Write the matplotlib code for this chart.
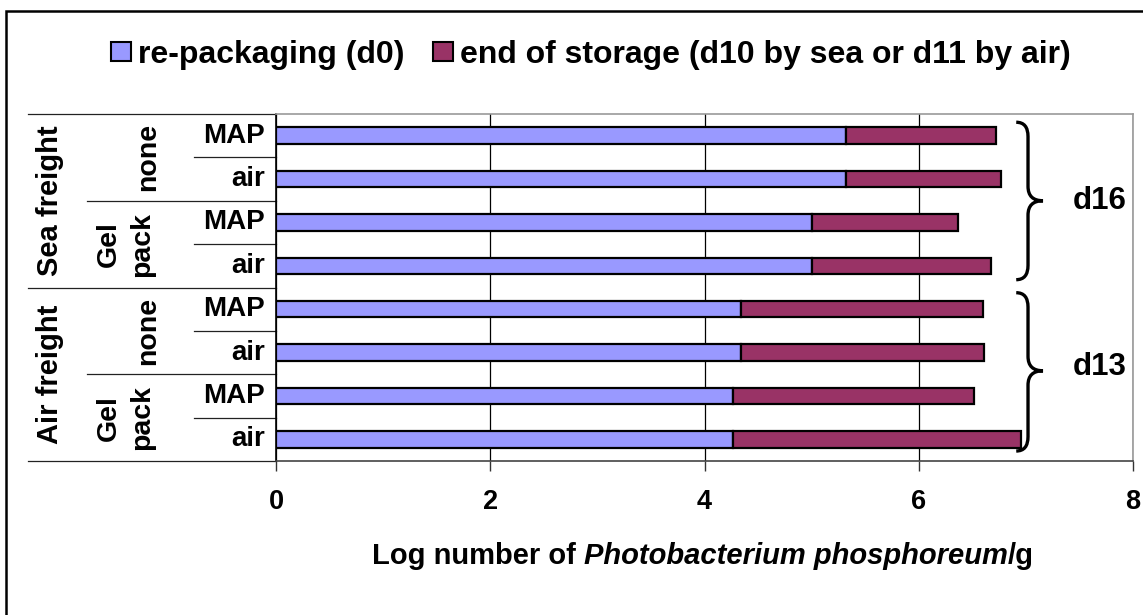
import matplotlib.pyplot as plt
import matplotlib.transforms as mtransforms
from matplotlib.patches import Patch, Rectangle
from matplotlib.path import Path
from matplotlib.patches import PathPatch

plt.rcParams['font.family'] = ['Liberation Sans', 'DejaVu Sans']
plt.rcParams['font.weight'] = 'bold'

# data (top to bottom)
transport = ['Sea freight', 'Air freight']
gel = ['none', 'Gel\npack']
atmosphere = ['MAP', 'air', 'MAP', 'air', 'MAP', 'air', 'MAP', 'air']
d0 = [5.32, 5.32, 5.00, 5.00, 4.34, 4.34, 4.27, 4.27]
end_storage = [6.72, 6.77, 6.37, 6.67, 6.60, 6.61, 6.52, 6.95]
increase = [e - s for e, s in zip(end_storage, d0)]
brace_labels = ['d16', 'd13']

blue = '#9999FF'
maroon = '#993366'

fig = plt.figure(figsize=(11.43, 6.15), dpi=100)
ax = fig.add_axes([276 / 1143, 1 - 461 / 615, 857 / 1143, 347 / 615])

ypos = list(range(len(d0)))
ax.barh(ypos, d0, height=0.38, color=blue, edgecolor='black', linewidth=1.6, zorder=3)
ax.barh(ypos, increase, left=d0, height=0.38, color=maroon, edgecolor='black', linewidth=1.6, zorder=3)

ax.set_xlim(0, 8)
ax.set_ylim(7.5, -0.5)
ax.set_xticks([0, 2, 4, 6, 8])
ax.tick_params(axis='x', labelsize=19.5, length=7, width=1, pad=13, color='#333333')
ax.tick_params(axis='y', left=False, labelleft=False)
for lbl in ax.get_xticklabels():
    lbl.set_fontweight('bold')
ax.grid(axis='x', color='black', linewidth=0.9, zorder=0)
ax.spines['left'].set_color('black')
ax.spines['bottom'].set_color('#444444')
ax.spines['top'].set_color('#999999')
ax.spines['right'].set_color('#999999')
for s in ax.spines.values():
    s.set_linewidth(1.2)

# category table on the left
tr = mtransforms.blended_transform_factory(ax.transAxes, ax.transData)
def hline(x0, y):
    ax.plot([x0, 0], [y, y], transform=tr, color='#222222', lw=0.9, clip_on=False)

for y in [-0.5, 3.5, 7.5]:
    hline(-0.2894, y)
for y in [1.5, 5.5]:
    hline(-0.2205, y)
for y in [0.5, 2.5, 4.5, 6.5]:
    hline(-0.0957, y)

for i, a in enumerate(atmosphere):
    ax.text(-0.0128, i, a, transform=tr, ha='right', va='center', fontsize=20, fontweight='bold')
for k in range(4):
    yc = 2 * k + 0.5
    label = gel[k % 2]
    xc = -0.149 if label == 'none' else -0.176
    ax.text(xc, yc, label, transform=tr, ha='center', va='center', rotation=90,
            fontsize=20.5, fontweight='bold', linespacing=1.35, multialignment='center')
for k, t in enumerate(transport):
    ax.text(-0.264, 4 * k + 1.5, t, transform=tr, ha='center', va='center', rotation=90,
            fontsize=21, fontweight='bold')

# braces
def brace(y0, ym, y1, x0=6.91, xv=7.02, xt=7.16, r=0.33):
    verts = [(x0, y0), (xv, y0), (xv, y0 + r),
             (xv, ym - r),
             (xv, ym), (xt, ym),
             (xv, ym), (xv, ym + r),
             (xv, y1 - r),
             (xv, y1), (x0, y1)]
    codes = [Path.MOVETO, Path.CURVE3, Path.CURVE3,
             Path.LINETO,
             Path.CURVE3, Path.CURVE3,
             Path.CURVE3, Path.CURVE3,
             Path.LINETO,
             Path.CURVE3, Path.CURVE3]
    ax.add_patch(PathPatch(Path(verts, codes), fill=False, lw=2.4, color='black',
                           clip_on=False, zorder=4))

brace(-0.31, 1.5, 3.32)
brace(3.62, 5.42, 7.27)
ax.text(7.69, 1.5, brace_labels[0], ha='center', va='center', fontsize=22.5, fontweight='bold')
ax.text(7.69, 5.33, brace_labels[1], ha='center', va='center', fontsize=22.5, fontweight='bold')

# legend
handles = [Patch(facecolor=blue, edgecolor='black', linewidth=1.5),
           Patch(facecolor=maroon, edgecolor='black', linewidth=1.5)]
fig.legend(handles, ['re-packaging (d0)', 'end of storage (d10 by sea or d11 by air)'],
           loc='center', bbox_to_anchor=(0.517, 1 - 55 / 615), ncol=2, frameon=False,
           prop={'size': 23, 'weight': 'bold'}, handlelength=0.63, handleheight=0.56,
           handletextpad=0.22, columnspacing=0.9, borderaxespad=0, borderpad=0)

# x label with italic species name
t1 = fig.text(372 / 1143, 1 - 570 / 615, 'Log number of ', fontsize=21, fontweight='bold',
              ha='left', va='bottom')
t2 = ax.annotate('Photobacterium phosphoreum', xy=(1, 0), xycoords=t1, fontsize=21,
                 fontweight='bold', fontstyle='italic', ha='left', va='bottom')
ax.annotate('/g', xy=(1, 0), xycoords=t2, fontsize=21, fontweight='bold', ha='left', va='bottom')

# outer frame
fig.patches.append(Rectangle((6 / 1143, -0.05), 1.2, 1 - 11 / 615 + 0.05, transform=fig.transFigure,
                             fill=False, edgecolor='black', lw=1.8))

fig.savefig('out.png', dpi=100)
